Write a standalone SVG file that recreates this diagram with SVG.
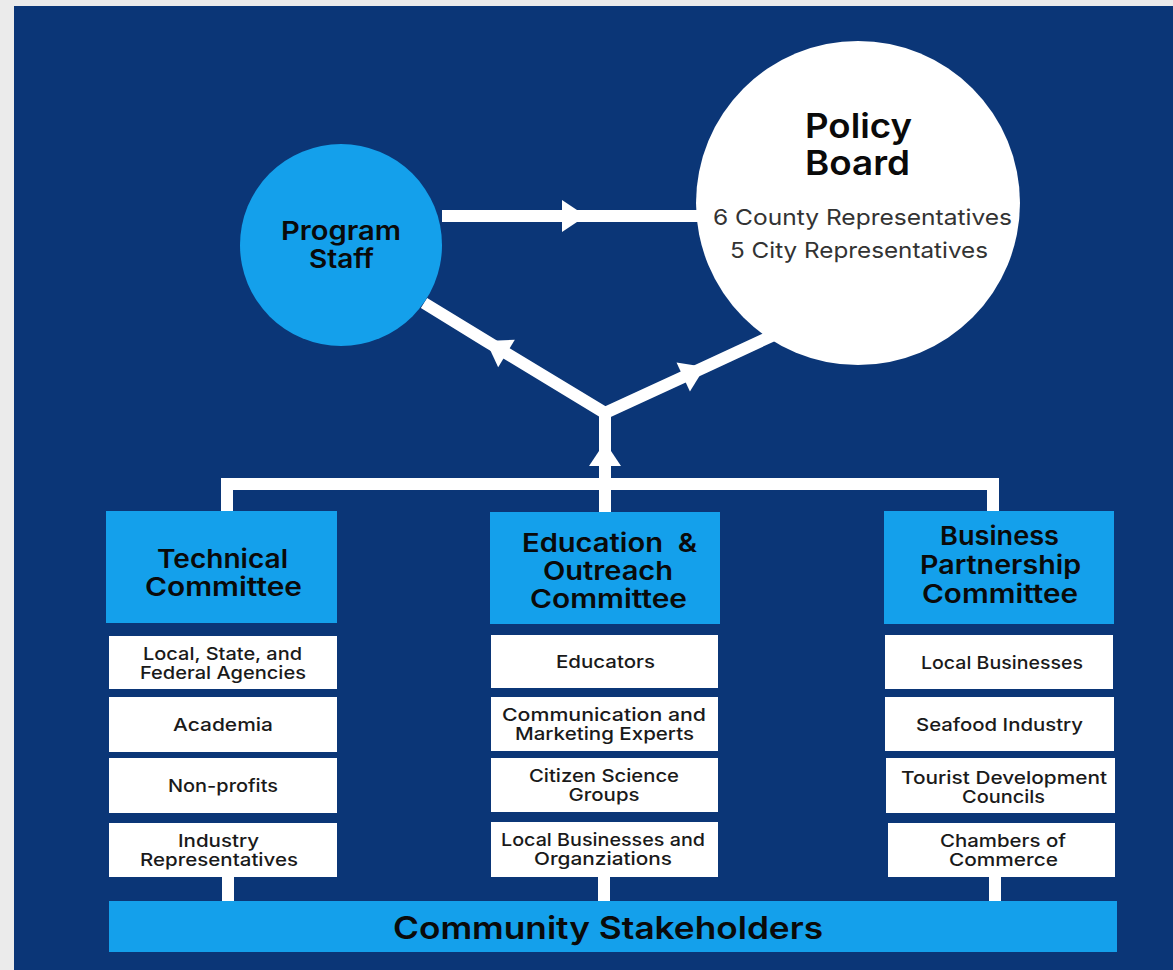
<svg xmlns="http://www.w3.org/2000/svg" width="1173" height="970" viewBox="0 0 1173 970">
  <defs>
    <style>
      .bg { fill: #0b3677; }
      .blue { fill: #14a0eb; }
      .white { fill: #ffffff; }
      .conn { fill: none; stroke: #ffffff; stroke-width: 12; }
      text { text-anchor: middle; font-family: Inter, "DejaVu Sans", sans-serif; }
      .head { font-weight: 600; fill: #0a0a0a; font-size: 26px; }
      .item { font-weight: 500; font-size: 17.8px; fill: #1a1a1a; }
      .sub { font-weight: 400; font-size: 22px; fill: #333333; }
    </style>
    <marker id="arrow" markerUnits="userSpaceOnUse" markerWidth="30" markerHeight="36" viewBox="-26 -18 30 36" refX="0" refY="0" orient="auto">
      <path d="M-24,-16 L0,0 L-24,16 Z" fill="#ffffff"/>
    </marker>
  </defs>
  <rect x="0" y="0" width="1173" height="970" fill="#ebebeb"/>
  <rect class="bg" x="14" y="6" width="1159" height="964"/>

  <g id="connectors">
    <path class="conn" d="M442,216 L586,216 L700,216" marker-mid="url(#arrow)"/>
    <path class="conn" d="M605,413 L486,341 L424,303" marker-mid="url(#arrow)"/>
    <path class="conn" d="M605,413 L705,367 L776,334" marker-mid="url(#arrow)"/>
    <path class="conn" d="M605,512 L605,442 L605,410" marker-mid="url(#arrow)"/>
    <path class="conn" d="M227,512 V484 H993 V512"/>
    <path class="conn" stroke-width="10" d="M228,877 V902"/>
    <path class="conn" stroke-width="10" d="M604,877 V902"/>
    <path class="conn" stroke-width="10" d="M995,877 V902"/>
  </g>

  <g id="program-staff">
    <circle class="blue" cx="341" cy="245" r="101"/>
    <text class="head" x="341" y="240" textLength="120" lengthAdjust="spacingAndGlyphs">Program</text>
    <text class="head" x="341.5" y="268" textLength="65" lengthAdjust="spacingAndGlyphs">Staff</text>
  </g>

  <g id="policy-board">
    <circle class="white" cx="858" cy="203" r="162"/>
    <text class="head" style="font-size:34px" x="858.5" y="138" textLength="107" lengthAdjust="spacingAndGlyphs">Policy</text>
    <text class="head" style="font-size:34px" x="857.5" y="175" textLength="105" lengthAdjust="spacingAndGlyphs">Board</text>
    <text class="sub" x="862.5" y="225" textLength="299" lengthAdjust="spacingAndGlyphs">6 County Representatives</text>
    <text class="sub" x="859" y="258" textLength="258" lengthAdjust="spacingAndGlyphs">5 City Representatives</text>
  </g>

  <g id="technical-committee">
    <rect class="blue" x="106" y="511" width="231" height="112"/>
    <text class="head" x="222.5" y="568" textLength="131" lengthAdjust="spacingAndGlyphs">Technical</text>
    <text class="head" x="223.5" y="596" textLength="157" lengthAdjust="spacingAndGlyphs">Committee</text>
  </g>
  <g id="tech-agencies">
    <rect class="white" x="109" y="636" width="228" height="53"/>
    <text class="item" x="222.5" y="660" textLength="159" lengthAdjust="spacingAndGlyphs">Local, State, and</text>
    <text class="item" x="223" y="679" textLength="166" lengthAdjust="spacingAndGlyphs">Federal Agencies</text>
  </g>
  <g id="tech-academia">
    <rect class="white" x="109" y="697" width="228" height="55"/>
    <text class="item" x="223" y="731" textLength="100" lengthAdjust="spacingAndGlyphs">Academia</text>
  </g>
  <g id="tech-nonprofits">
    <rect class="white" x="109" y="758" width="228" height="55"/>
    <text class="item" x="223" y="792" textLength="110" lengthAdjust="spacingAndGlyphs">Non-profits</text>
  </g>
  <g id="tech-industry">
    <rect class="white" x="109" y="823" width="228" height="54"/>
    <text class="item" x="218.5" y="847" textLength="81" lengthAdjust="spacingAndGlyphs">Industry</text>
    <text class="item" x="219" y="866" textLength="158" lengthAdjust="spacingAndGlyphs">Representatives</text>
  </g>

  <g id="education-committee">
    <rect class="blue" x="490" y="512" width="230" height="112"/>
    <text class="head" x="609.5" y="552" textLength="175" lengthAdjust="spacingAndGlyphs" xml:space="preserve">Education  &amp;</text>
    <text class="head" x="608" y="580" textLength="130" lengthAdjust="spacingAndGlyphs">Outreach</text>
    <text class="head" x="608.5" y="608" textLength="157" lengthAdjust="spacingAndGlyphs">Committee</text>
  </g>
  <g id="edu-educators">
    <rect class="white" x="491" y="635" width="227" height="53"/>
    <text class="item" x="605.5" y="668" textLength="99" lengthAdjust="spacingAndGlyphs">Educators</text>
  </g>
  <g id="edu-communication">
    <rect class="white" x="491" y="697" width="227" height="54"/>
    <text class="item" x="604" y="721" textLength="204" lengthAdjust="spacingAndGlyphs">Communication and</text>
    <text class="item" x="604.5" y="740" textLength="179" lengthAdjust="spacingAndGlyphs">Marketing Experts</text>
  </g>
  <g id="edu-citizen">
    <rect class="white" x="491" y="758" width="227" height="54"/>
    <text class="item" x="604" y="782" textLength="150" lengthAdjust="spacingAndGlyphs">Citizen Science</text>
    <text class="item" x="604" y="801" textLength="71" lengthAdjust="spacingAndGlyphs">Groups</text>
  </g>
  <g id="edu-local">
    <rect class="white" x="491" y="822" width="227" height="55"/>
    <text class="item" x="603" y="846" textLength="204" lengthAdjust="spacingAndGlyphs">Local Businesses and</text>
    <text class="item" x="603" y="865" textLength="138" lengthAdjust="spacingAndGlyphs">Organziations</text>
  </g>

  <g id="business-committee">
    <rect class="blue" x="884" y="511" width="230" height="113"/>
    <text class="head" x="999.5" y="545" textLength="119" lengthAdjust="spacingAndGlyphs">Business</text>
    <text class="head" x="1000.5" y="574" textLength="161" lengthAdjust="spacingAndGlyphs">Partnership</text>
    <text class="head" x="1000" y="603" textLength="156" lengthAdjust="spacingAndGlyphs">Committee</text>
  </g>
  <g id="bus-local">
    <rect class="white" x="885" y="635" width="228" height="54"/>
    <text class="item" x="1002" y="669" textLength="162" lengthAdjust="spacingAndGlyphs">Local Businesses</text>
  </g>
  <g id="bus-seafood">
    <rect class="white" x="885" y="697" width="229" height="54"/>
    <text class="item" x="999.5" y="731" textLength="167" lengthAdjust="spacingAndGlyphs">Seafood Industry</text>
  </g>
  <g id="bus-tourist">
    <rect class="white" x="886" y="758" width="229" height="55"/>
    <text class="item" x="1004" y="784" textLength="206" lengthAdjust="spacingAndGlyphs">Tourist Development</text>
    <text class="item" x="1003.5" y="803" textLength="83" lengthAdjust="spacingAndGlyphs">Councils</text>
  </g>
  <g id="bus-chambers">
    <rect class="white" x="888" y="823" width="227" height="54"/>
    <text class="item" x="1003" y="847" textLength="126" lengthAdjust="spacingAndGlyphs">Chambers of</text>
    <text class="item" x="1003.5" y="866" textLength="109" lengthAdjust="spacingAndGlyphs">Commerce</text>
  </g>

  <g id="community-stakeholders">
    <rect class="blue" x="109" y="901" width="1008" height="51"/>
    <text class="head" style="font-size:31px" x="608" y="939" textLength="430" lengthAdjust="spacingAndGlyphs">Community Stakeholders</text>
  </g>
</svg>
